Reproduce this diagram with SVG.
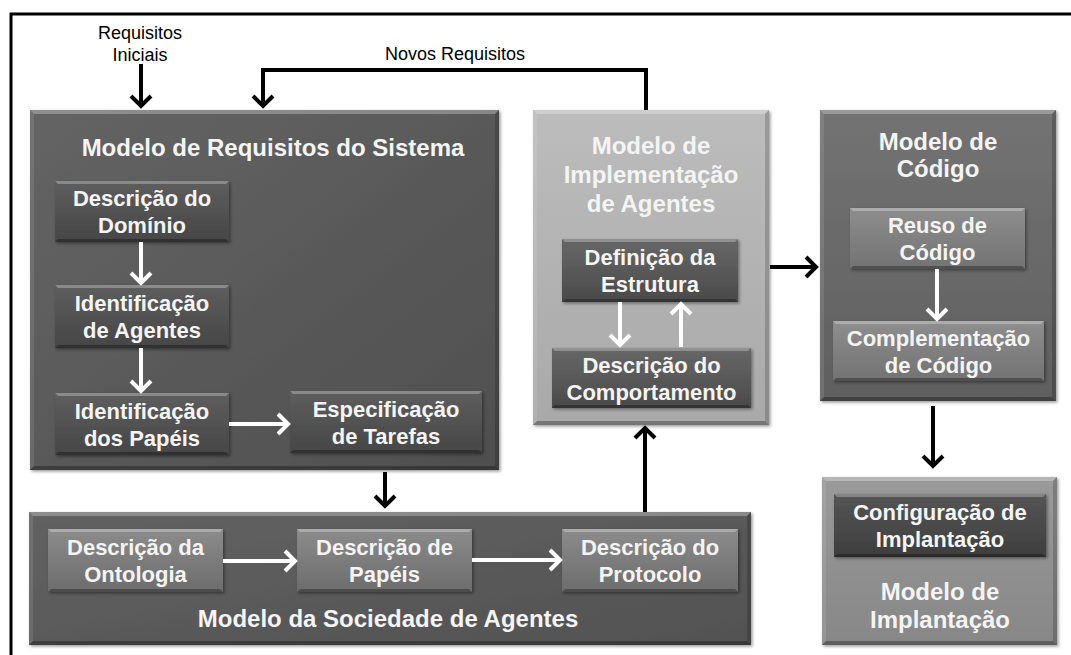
<svg xmlns="http://www.w3.org/2000/svg" width="1071" height="655" viewBox="0 0 1071 655">
<style>
.t{font-family:"Liberation Sans",Arial,sans-serif;font-weight:bold;text-anchor:middle;fill:#f4f4f4}
.ti{font-size:24px}
.ts{font-size:22px}
.lbl{font-family:"Liberation Sans",Arial,sans-serif;font-size:18px;fill:#000;text-anchor:middle}
.bt{fill:#fff;opacity:.28}
.bl{fill:#fff;opacity:.1}
.br{fill:#000;opacity:.18}
.bb{fill:#000;opacity:.3}
.cb{fill:none;stroke:#000;stroke-width:4}
.cw{fill:none;stroke:#fff;stroke-width:4}
</style>
<defs>
<linearGradient id="g1" x1="0" y1="0" x2="1" y2="1"><stop offset="0" stop-color="#646464"/><stop offset="1" stop-color="#4f4f4f"/></linearGradient>
<linearGradient id="g1s" x1="0" y1="0" x2="0" y2="1"><stop offset="0" stop-color="#5e5e5e"/><stop offset="1" stop-color="#464646"/></linearGradient>
<linearGradient id="g2" x1="0" y1="0" x2="1" y2="1"><stop offset="0" stop-color="#626262"/><stop offset="1" stop-color="#525252"/></linearGradient>
<linearGradient id="g2s" x1="0" y1="0" x2="0" y2="1"><stop offset="0" stop-color="#8c8c8c"/><stop offset="1" stop-color="#6c6c6c"/></linearGradient>
<linearGradient id="g3" x1="0" y1="0" x2="0" y2="1"><stop offset="0" stop-color="#bcbcbc"/><stop offset="1" stop-color="#a9a9a9"/></linearGradient>
<linearGradient id="g3s" x1="0" y1="0" x2="0" y2="1"><stop offset="0" stop-color="#676767"/><stop offset="1" stop-color="#4a4a4a"/></linearGradient>
<linearGradient id="g4" x1="0" y1="0" x2="0" y2="1"><stop offset="0" stop-color="#737373"/><stop offset="1" stop-color="#5f5f5f"/></linearGradient>
<linearGradient id="g4s" x1="0" y1="0" x2="0" y2="1"><stop offset="0" stop-color="#8e8e8e"/><stop offset="1" stop-color="#727272"/></linearGradient>
<linearGradient id="g5" x1="0" y1="0" x2="0" y2="1"><stop offset="0" stop-color="#9a9a9a"/><stop offset="1" stop-color="#878787"/></linearGradient>
<linearGradient id="g5s" x1="0" y1="0" x2="0" y2="1"><stop offset="0" stop-color="#555555"/><stop offset="1" stop-color="#3e3e3e"/></linearGradient>
<filter id="sh" x="-5%" y="-5%" width="115%" height="115%"><feDropShadow dx="1.5" dy="1.5" stdDeviation="1.5" flood-color="#000" flood-opacity=".4"/></filter>
<marker id="ab" markerUnits="userSpaceOnUse" markerWidth="26" markerHeight="26" refX="13" refY="13" orient="auto" viewBox="0 0 26 26"><path d="M3,3 L13,13 L3,23" fill="none" stroke="#000" stroke-width="4"/></marker>
<marker id="aw" markerUnits="userSpaceOnUse" markerWidth="26" markerHeight="26" refX="13" refY="13" orient="auto" viewBox="0 0 26 26"><path d="M3,3 L13,13 L3,23" fill="none" stroke="#fff" stroke-width="4"/></marker>
</defs>
<rect width="1071" height="655" fill="#fff"/>
<path d="M11,660 L11,14 L1075,14" fill="none" stroke="#000" stroke-width="3"/>

<g id="label-requisitos-iniciais">
<text class="lbl" x="140" y="39">Requisitos</text>
<text class="lbl" x="140" y="61">Iniciais</text>
</g>
<g id="label-novos-requisitos"><text class="lbl" x="455" y="60">Novos Requisitos</text></g>

<g id="modelo-requisitos">
<rect x="30" y="110" width="469" height="360" fill="url(#g1)" filter="url(#sh)"/>
<polygon class="bt" points="30,110 499,110 495,114 34,114"/><polygon class="bl" points="30,110 34,114 34,466 30,470"/><polygon class="br" points="499,110 499,470 495,466 495,114"/><polygon class="bb" points="30,470 499,470 495,466 34,466"/>
<text class="t ti" x="273" y="156">Modelo de Requisitos do Sistema</text>
</g>
<g id="descricao-dominio">
<rect x="55" y="181" width="174" height="61" fill="url(#g1s)" filter="url(#sh)"/>
<polygon class="bt" points="55,181 229,181 226,184 58,184"/><polygon class="bb" points="55,242 229,242 226,239 58,239"/>
<text class="t ts" x="142" y="206">Descrição do</text><text class="t ts" x="142" y="233">Domínio</text>
</g>
<g id="identificacao-agentes">
<rect x="55" y="285" width="174" height="63" fill="url(#g1s)" filter="url(#sh)"/>
<polygon class="bt" points="55,285 229,285 226,288 58,288"/><polygon class="bb" points="55,348 229,348 226,345 58,345"/>
<text class="t ts" x="142" y="311">Identificação</text><text class="t ts" x="142" y="338">de Agentes</text>
</g>
<g id="identificacao-papeis">
<rect x="55" y="393" width="174" height="62" fill="url(#g1s)" filter="url(#sh)"/>
<polygon class="bt" points="55,393 229,393 226,396 58,396"/><polygon class="bb" points="55,455 229,455 226,452 58,452"/>
<text class="t ts" x="142" y="418.5">Identificação</text><text class="t ts" x="142" y="445.5">dos Papéis</text>
</g>
<g id="especificacao-tarefas">
<rect x="290" y="391" width="192" height="62" fill="url(#g1s)" filter="url(#sh)"/>
<polygon class="bt" points="290,391 482,391 479,394 293,394"/><polygon class="bb" points="290,453 482,453 479,450 293,450"/>
<text class="t ts" x="386" y="416.5">Especificação</text><text class="t ts" x="386" y="443.5">de Tarefas</text>
</g>

<g id="modelo-sociedade">
<rect x="29" y="512" width="722" height="133" fill="url(#g2)" filter="url(#sh)"/>
<polygon class="bt" points="29,512 751,512 747,516 33,516"/><polygon class="bl" points="29,512 33,516 33,641 29,645"/><polygon class="br" points="751,512 751,645 747,641 747,516"/><polygon class="bb" points="29,645 751,645 747,641 33,641"/>
<text class="t ti" x="388" y="627">Modelo da Sociedade de Agentes</text>
</g>
<g id="descricao-ontologia">
<rect x="48" y="529" width="175" height="63" fill="url(#g2s)" filter="url(#sh)"/>
<polygon class="bt" points="48,529 223,529 220,532 51,532"/><polygon class="bb" points="48,592 223,592 220,589 51,589"/>
<text class="t ts" x="135.5" y="555">Descrição da</text><text class="t ts" x="135.5" y="582">Ontologia</text>
</g>
<g id="descricao-papeis">
<rect x="297" y="529" width="175" height="63" fill="url(#g2s)" filter="url(#sh)"/>
<polygon class="bt" points="297,529 472,529 469,532 300,532"/><polygon class="bb" points="297,592 472,592 469,589 300,589"/>
<text class="t ts" x="384.5" y="555">Descrição de</text><text class="t ts" x="384.5" y="582">Papéis</text>
</g>
<g id="descricao-protocolo">
<rect x="562" y="529" width="176" height="63" fill="url(#g2s)" filter="url(#sh)"/>
<polygon class="bt" points="562,529 738,529 735,532 565,532"/><polygon class="bb" points="562,592 738,592 735,589 565,589"/>
<text class="t ts" x="650" y="555">Descrição do</text><text class="t ts" x="650" y="582">Protocolo</text>
</g>

<g id="modelo-implementacao">
<rect x="533" y="110" width="236" height="315" fill="url(#g3)" filter="url(#sh)"/>
<polygon class="bt" points="533,110 769,110 765,114 537,114"/><polygon class="bl" points="533,110 537,114 537,421 533,425"/><polygon class="br" points="769,110 769,425 765,421 765,114"/><polygon class="bb" points="533,425 769,425 765,421 537,421"/>
<text class="t ti" x="651" y="154" fill="#ececec">Modelo de</text>
<text class="t ti" x="651" y="183">Implementação</text>
<text class="t ti" x="651" y="212">de Agentes</text>
</g>
<g id="definicao-estrutura">
<rect x="562" y="239" width="176" height="63" fill="url(#g3s)" filter="url(#sh)"/>
<polygon class="bt" points="562,239 738,239 735,242 565,242"/><polygon class="bb" points="562,302 738,302 735,299 565,299"/>
<text class="t ts" x="650" y="265">Definição da</text><text class="t ts" x="650" y="292">Estrutura</text>
</g>
<g id="descricao-comportamento">
<rect x="552" y="348" width="199" height="60" fill="url(#g3s)" filter="url(#sh)"/>
<polygon class="bt" points="552,348 751,348 748,351 555,351"/><polygon class="bb" points="552,408 751,408 748,405 555,405"/>
<text class="t ts" x="651.5" y="372.5">Descrição do</text><text class="t ts" x="651.5" y="399.5">Comportamento</text>
</g>

<g id="modelo-codigo">
<rect x="820" y="110" width="236" height="291" fill="url(#g4)" filter="url(#sh)"/>
<polygon class="bt" points="820,110 1056,110 1052,114 824,114"/><polygon class="bl" points="820,110 824,114 824,397 820,401"/><polygon class="br" points="1056,110 1056,401 1052,397 1052,114"/><polygon class="bb" points="820,401 1056,401 1052,397 824,397"/>
<text class="t ti" x="938" y="150">Modelo de</text>
<text class="t ti" x="938" y="177">Código</text>
</g>
<g id="reuso-codigo">
<rect x="850" y="208" width="175" height="61" fill="url(#g4s)" filter="url(#sh)"/>
<polygon class="bt" points="850,208 1025,208 1022,211 853,211"/><polygon class="bb" points="850,269 1025,269 1022,266 853,266"/>
<text class="t ts" x="937.5" y="233">Reuso de</text><text class="t ts" x="937.5" y="260">Código</text>
</g>
<g id="complementacao-codigo">
<rect x="833" y="321" width="211" height="60" fill="url(#g4s)" filter="url(#sh)"/>
<polygon class="bt" points="833,321 1044,321 1041,324 836,324"/><polygon class="bb" points="833,381 1044,381 1041,378 836,378"/>
<text class="t ts" x="938.5" y="345.5">Complementação</text><text class="t ts" x="938.5" y="372.5">de Código</text>
</g>

<g id="modelo-implantacao">
<rect x="822" y="477" width="235" height="168" fill="url(#g5)" filter="url(#sh)"/>
<polygon class="bt" points="822,477 1057,477 1053,481 826,481"/><polygon class="bl" points="822,477 826,481 826,641 822,645"/><polygon class="br" points="1057,477 1057,645 1053,641 1053,481"/><polygon class="bb" points="822,645 1057,645 1053,641 826,641"/>
<text class="t ti" x="940" y="600">Modelo de</text>
<text class="t ti" x="940" y="628">Implantação</text>
</g>
<g id="configuracao-implantacao">
<rect x="834" y="494" width="212" height="63" fill="url(#g5s)" filter="url(#sh)"/>
<polygon class="bt" points="834,494 1046,494 1043,497 837,497"/><polygon class="bb" points="834,557 1046,557 1043,554 837,554"/>
<text class="t ts" x="940" y="520">Configuração de</text><text class="t ts" x="940" y="547">Implantação</text>
</g>

<g id="connectors">
<path class="cb" d="M141,64 L141,106" marker-end="url(#ab)"/>
<path class="cb" d="M646,110 L646,70 L263,70 L263,106" marker-end="url(#ab)"/>
<path class="cb" d="M385,472 L385,506" marker-end="url(#ab)"/>
<path class="cb" d="M645,512 L645,428" marker-end="url(#ab)"/>
<path class="cb" d="M770,267 L816,267" marker-end="url(#ab)"/>
<path class="cb" d="M933,406 L933,466" marker-end="url(#ab)"/>
<path class="cw" d="M141,242 L141,283" marker-end="url(#aw)"/>
<path class="cw" d="M141,348 L141,391" marker-end="url(#aw)"/>
<path class="cw" d="M229,424 L288,424" marker-end="url(#aw)"/>
<path class="cw" d="M223,561 L295,561" marker-end="url(#aw)"/>
<path class="cw" d="M472,560 L560,560" marker-end="url(#aw)"/>
<path class="cw" d="M620,302 L620,345" marker-end="url(#aw)"/>
<path class="cw" d="M681,347 L681,304" marker-end="url(#aw)"/>
<path class="cw" d="M937,269 L937,319" marker-end="url(#aw)"/>
</g>
</svg>
